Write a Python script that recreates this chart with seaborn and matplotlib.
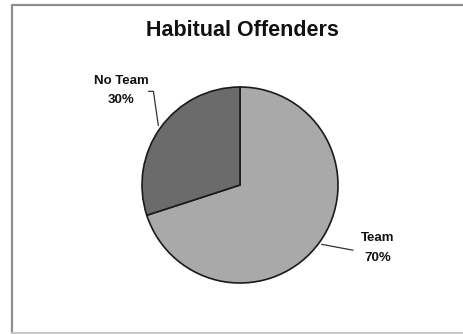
import numpy as np
import matplotlib
matplotlib.use("Agg")
import matplotlib.pyplot as plt
from matplotlib.lines import Line2D
import seaborn as sns

sns.set_theme(style="white")
plt.rcParams["font.family"] = ["Liberation Sans", "DejaVu Sans"]

# Data
categories = ["Team", "No Team"]
shares = [70, 30]
colors = ["#a9a9a9", "#6b6b6b"]
title = "Habitual Offenders"

W, H, DPI = 464, 334, 100
fig = plt.figure(figsize=(W / DPI, H / DPI), dpi=DPI)
fig.patch.set_facecolor("white")

# axes spanning the whole figure; one data unit equals the pie radius
R_PX = 98.0
CX, CY = 240.0, 185.0
ax = fig.add_axes([0, 0, 1, 1])

wedges, _ = ax.pie(
    shares,
    colors=colors,
    startangle=90,
    counterclock=False,
    radius=1.0,
    center=(0, 0),
    wedgeprops=dict(edgecolor="#1a1a1a", linewidth=1.2),
)

ax.set_xlim(-CX / R_PX, (W - CX) / R_PX)
ax.set_ylim(-(H - CY) / R_PX, CY / R_PX)
ax.set_aspect("equal")
ax.axis("off")

# outer frame: left, top and bottom edges
x0, y_top, y_bot = 12 / W, 1 - 5 / H, 1 - 333 / H
for xs, ys, c in [([x0, x0], [y_bot, y_top], "#8f8f8f"),
                  ([x0, 1.0], [y_top, y_top], "#8f8f8f"),
                  ([x0, 1.0], [y_bot, y_bot], "#c8c8c8")]:
    fig.add_artist(Line2D(xs, ys, transform=fig.transFigure,
                          color=c, linewidth=1.6))

fig.text(242 / W, 1 - 31 / H, title, ha="center", va="center",
         fontsize=15.5, fontweight="bold", color="#111111")

label_style = dict(ha="center", va="center", fontsize=9.5,
                   fontweight="bold", color="#111111", linespacing=1.85)

for w, name, val in zip(wedges, categories, shares):
    mid = np.deg2rad((w.theta1 + w.theta2) / 2)
    ex, ey = 1.03 * np.cos(mid), 1.03 * np.sin(mid)
    txt = f"{name}\n{val}%"
    if np.cos(mid) > 0:
        # leader to the lower right
        ax.plot([ex, ex + 0.32], [ey, ey - 0.06], color="#333333", lw=0.9)
        ax.text(ex + 0.57, ey - 0.04, txt, **label_style)
    else:
        # elbow leader to the upper left
        ax.plot([ex, ex - 0.05, ex - 0.10], [ey, ey + 0.35, ey + 0.35],
                color="#333333", lw=0.9)
        ax.text(ex - 0.38, ey + 0.36, txt, **label_style)

fig.savefig("out.png", dpi=DPI, facecolor="white")
